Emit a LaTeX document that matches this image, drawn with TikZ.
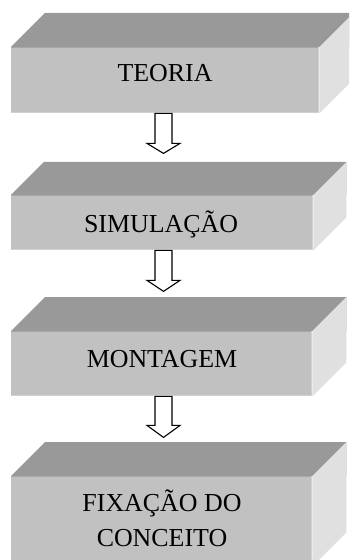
\documentclass[tikz,border=0pt]{standalone}
\usepackage{fontspec}
\setmainfont{Liberation Serif}
\usetikzlibrary{calc}
\definecolor{topface}{gray}{0.60}
\definecolor{frontface}{gray}{0.755}
\definecolor{sideface}{gray}{0.88}
\definecolor{rimlight}{gray}{0.82}
\definecolor{rimdark}{gray}{0.66}
\tikzset{
  front/.style={rectangle, fill=frontface, inner sep=0pt, anchor=north west},
  lbl/.style={font=\fontsize{26}{35}\selectfont, inner sep=0pt, align=center, anchor=base},
  blockarrow/.style={draw=black, fill=white, line width=1.1pt, line join=miter},
}
\newcommand{\slab}[2]{% #1 = front node name, #2 = depth
  \fill[topface] (#1.north west) -- ++(#2,-#2) -| ($(#1.north east)+(#2,0)$) -- (#1.north east) -- cycle;
  \fill[sideface] (#1.north east) -- ++(#2,-#2) -- ($(#1.south east)+(#2,-#2)$) -- (#1.south east) -- cycle;
  \draw[rimdark, line width=0.8pt] ([yshift=-0.4pt]#1.north west) -- ([yshift=-0.4pt]#1.north east);
  \draw[rimlight, line width=1pt] ([xshift=-0.5pt]#1.north east) -- ([xshift=-0.5pt]#1.south east);
  \draw[rimlight, line width=1pt] ([yshift=0.5pt]#1.south west) -- ([yshift=0.5pt]#1.south east);
}
\begin{document}
\begin{tikzpicture}[x=1bp, y=-1bp]
  \useasboundingbox (0,0) rectangle (349,560);
  \begin{scope}
    \clip (0,0) rectangle (349,560);

    % front faces of the four slabs
    \node[front, minimum width=308bp, minimum height=66bp] (f1) at (11,47) {};
    \node[front, minimum width=302bp, minimum height=55bp] (f2) at (11,195) {};
    \node[front, minimum width=301bp, minimum height=65bp] (f3) at (11,331) {};
    \node[front, minimum width=301bp, minimum height=90bp] (f4) at (11,476) {};

    % top and side faces
    \slab{f1}{34}
    \slab{f2}{33}
    \slab{f3}{34}
    \slab{f4}{34}

    % labels (a two-line label sits on the baseline of its last line)
    \node[lbl] (t1) at (165,82) {TEORIA};
    \node[lbl] (t2) at (161,232) {SIMULAÇÃO};
    \node[lbl] (t3) at (162,367) {MONTAGEM};
    \node[lbl] (t4) at (162,546) {FIXAÇÃO DO\\CONCEITO};

    % hollow block arrows between the slabs
    \coordinate (ax) at (163.5,0);
    \draw[blockarrow] (f1.south -| ax) ++(-8.5,0) -- ++(0,30) -- ++(-8,0) -- ++(16.5,10) -- ++(16.5,-10) -- ++(-8,0) -- ++(0,-30) -- cycle;
    \draw[blockarrow] (f2.south -| ax) ++(-8.5,0) -- ++(0,30) -- ++(-8,0) -- ++(16.5,11) -- ++(16.5,-11) -- ++(-8,0) -- ++(0,-30) -- cycle;
    \draw[blockarrow] (f3.south -| ax) ++(-8.5,0) -- ++(0,29) -- ++(-8,0) -- ++(16.5,12) -- ++(16.5,-12) -- ++(-8,0) -- ++(0,-29) -- cycle;
  \end{scope}
\end{tikzpicture}
\end{document}
